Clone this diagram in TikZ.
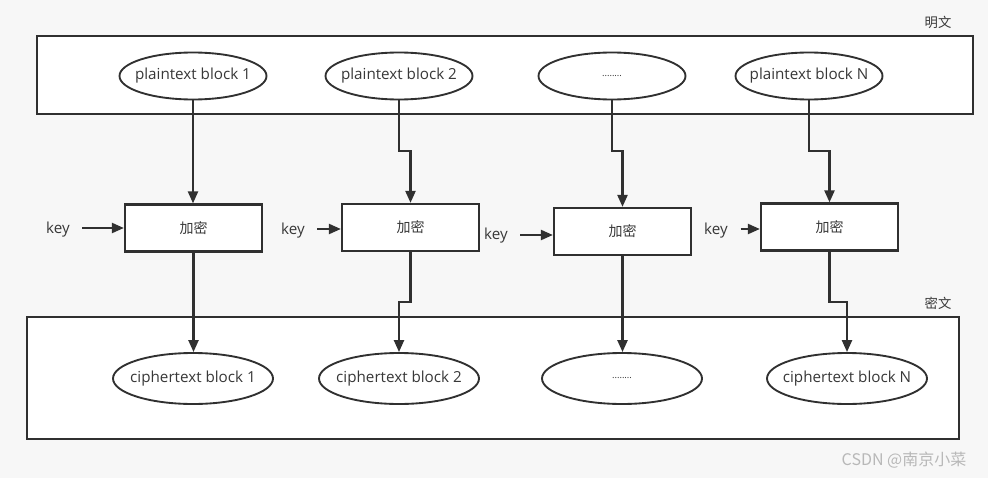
\documentclass[tikz,border=0pt]{standalone}
\usepackage{fontspec}
\setmainfont{Open Sans}
\newfontfamily\cjk{Noto Sans CJK SC}
\usetikzlibrary{arrows.meta,shapes.geometric}
\definecolor{ln}{HTML}{303030}
\definecolor{tx}{HTML}{383838}
\definecolor{bg}{HTML}{F7F7F7}
\newcommand{\zw}[1]{\makebox[0pt]{#1}}
\begin{document}
\begin{tikzpicture}[x=0.75pt,y=-0.75pt,
  every node/.style={font=\fontsize{11.4pt}{13pt}\selectfont, text=tx},
  frame/.style={rectangle, draw=ln, line width=1.7pt, fill=white, inner sep=0},
  blk/.style={ellipse, draw=ln, line width=1.4pt, fill=white, inner sep=0,
    minimum width=110.25pt, minimum height=35.25pt},
  cblk/.style={blk, minimum width=120pt, minimum height=38.25pt},
  enc/.style={rectangle, draw=ln, line width=1.7pt, fill=white, inner sep=0,
    minimum width=102.75pt, minimum height=35.25pt, font=\cjk\fontsize{10.5pt}{12pt}\selectfont},
  lbl/.style={font=\cjk\fontsize{10pt}{12pt}\selectfont},
  conn/.style={draw=ln, line width=1.7pt, -{Triangle[length=9pt,width=7.5pt]}},
  keyarr/.style={conn, shorten <=6pt}
]
\fill[bg] (0,0) rectangle (988,478);
\useasboundingbox (0,0) rectangle (988,478);

% frames
\node[frame, minimum width=702pt, minimum height=58.5pt] (top) at (505,75) {};
\node[frame, minimum width=699pt, minimum height=91.5pt] (bot) at (493,378) {};
\node[lbl] (mw) at (938,22) {明文};
\node[lbl] (cw) at (938,303) {密文};

% plaintext blocks
\node[blk] (p1) at (193,76) {\zw{plaintext block 1}};
\node[blk] (p2) at (399,76) {\zw{plaintext block 2}};
\node[blk] (p3) at (612,76) {\zw{\fontsize{7pt}{8pt}\selectfont ........}};
\node[blk] (pN) at (809,76) {\zw{plaintext block N}};

% encryption boxes
\node[enc] (e1) at (193.5,228) {加密};
\node[enc] (e2) at (410.5,227.5) {加密};
\node[enc] (e3) at (622.5,231.5) {加密};
\node[enc] (e4) at (829.5,227) {加密};

% ciphertext blocks
\node[cblk] (c1) at (193,378.5) {\zw{ciphertext block 1}};
\node[cblk] (c2) at (399,378.5) {\zw{ciphertext block 2}};
\node[cblk] (c3) at (622,378.5) {\zw{\fontsize{7pt}{8pt}\selectfont ........}};
\node[cblk] (cN) at (847,378.5) {\zw{ciphertext block N}};

% keys
\node (k1) at (58,230) {key};
\node (k2) at (293,231) {key};
\node (k3) at (496,236) {key};
\node (k4) at (716,231) {key};
\draw[keyarr] ([yshift=1.5pt]k1.east) -- ([yshift=1.5pt]k1.east -| e1.west);
\draw[keyarr] ([yshift=1.5pt]k2.east) -- ([yshift=1.5pt]k2.east -| e2.west);
\draw[keyarr] ([yshift=0.75pt]k3.east) -- ([yshift=0.75pt]k3.east -| e3.west);
\draw[keyarr] ([yshift=1.5pt]k4.east) -- ([yshift=1.5pt]k4.east -| e4.west);

% bend levels
\coordinate (mt) at (0,151);
\coordinate (mb) at (0,302);

% plaintext -> encryption
\draw[conn] (p1.south) -- (p1.south |- e1.north);
\draw[conn] (p2.south) |- (e2.north |- mt) -- (e2.north);
\draw[conn] (p3.south) |- (e3.north |- mt) -- (e3.north);
\draw[conn] (pN.south) |- (e4.north |- mt) -- (e4.north);

% encryption -> ciphertext
\draw[conn] (e1.south) -- (e1.south |- c1.north);
\draw[conn] (e2.south) |- (c2.north |- mb) -- (c2.north);
\draw[conn] (e3.south) -- (e3.south |- c3.north);
\draw[conn] (e4.south) |- (cN.north |- mb) -- (cN.north);

% watermark
\node[font=\cjk\fontsize{12pt}{14pt}\selectfont, text=black!28] (wm) at (904,460) {CSDN @南京小菜};
\end{tikzpicture}
\end{document}
